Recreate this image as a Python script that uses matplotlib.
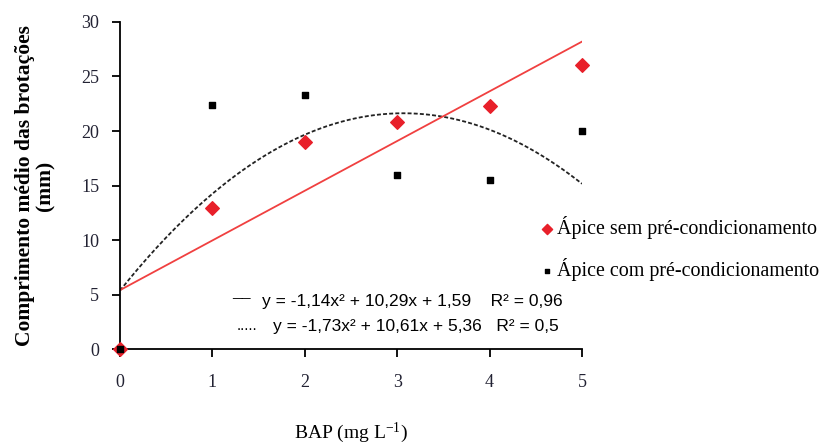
import numpy as np
import matplotlib
matplotlib.use("Agg")
import matplotlib.pyplot as plt

# BAP dose (mg/L) and mean shoot length (mm)
bap = [0, 1, 2, 3, 4, 5]
sem_pre = [0, 12.9, 19.0, 20.8, 22.3, 26.05]      # red diamonds
com_pre = [0, 22.4, 23.3, 16.0, 15.5, 20.0]       # black squares

# trend lines as drawn
red_line_x = [0, 5]
red_line_y = [5.4, 28.2]
dotted_coef = [-1.73, 10.61, 5.36]                # y = a x^2 + b x + c

eq1 = "y = -1,14x\u00b2 + 10,29x + 1,59    R\u00b2 = 0,96"
eq2 = "y = -1,73x\u00b2 + 10,61x + 5,36   R\u00b2 = 0,5"

serif = ["Liberation Serif", "DejaVu Serif"]
sans = ["Liberation Sans", "DejaVu Sans"]
plt.rcParams["mathtext.fontset"] = "custom"
plt.rcParams["mathtext.rm"] = "Liberation Serif"

fig = plt.figure(figsize=(8.19, 4.47), dpi=100)
ax = fig.add_axes([0.1465, 0.2192, 0.5641, 0.7316])

xs = np.linspace(0, 5, 200)
ax.plot(xs, np.polyval(dotted_coef, xs), color="#222222", lw=1.3,
        ls=(0, (2.2, 1.2)), zorder=2)
ax.plot(red_line_x, red_line_y, color="#f04040", lw=1.3, zorder=2)

ax.scatter(bap, sem_pre, marker="D", s=48, color="#e8202a", zorder=3,
           clip_on=False, label="\u00c1pice sem pr\u00e9-condicionamento")
ax.scatter(bap, com_pre, marker="s", s=22, color="black", zorder=4,
           clip_on=False, label="\u00c1pice com pr\u00e9-condicionamento")

ax.set_xlim(0, 5)
ax.set_ylim(0, 30)
ax.set_xticks(range(0, 6))
ax.set_yticks(range(0, 31, 5))
for s in ("top", "right"):
    ax.spines[s].set_visible(False)
for s in ("left", "bottom"):
    ax.spines[s].set_linewidth(1.3)
ax.tick_params(direction="out", length=6, width=1.3)
ax.tick_params(axis="y", pad=9)
ax.tick_params(axis="x", pad=12)
for t in ax.get_xticklabels() + ax.get_yticklabels():
    t.set_fontfamily(serif)
    t.set_fontsize(13)
    t.set_color("#222233")

ax.set_xlabel(r"BAP (mg L$\mathregular{^{-1}}$)", fontfamily=serif,
              fontsize=14, labelpad=21)
ax.set_ylabel("Comprimento m\u00e9dio das brota\u00e7\u00f5es\n(mm)",
              fontfamily=serif, fontsize=15.5, fontweight="bold",
              linespacing=1.05)
ax.yaxis.set_label_coords(-0.14, 0.5)

fig.legend(loc="upper left", bbox_to_anchor=(0.634, 0.557), frameon=False,
           prop={"family": serif, "size": 14.4}, handletextpad=0.0,
           labelspacing=0.95, markerscale=0.75, handlelength=1.0)

ax.text(0.243, 0.15, "__", transform=ax.transAxes, fontfamily=sans,
        fontsize=12, va="bottom", fontweight="bold")
ax.text(0.307, 0.145, eq1, transform=ax.transAxes, fontfamily=sans,
        fontsize=12.5, va="center")
ax.text(0.253, 0.069, ".....", transform=ax.transAxes, fontfamily=sans,
        fontsize=11, va="center")
ax.text(0.331, 0.069, eq2, transform=ax.transAxes, fontfamily=sans,
        fontsize=12.5, va="center")

fig.savefig("out.png", dpi=100)
